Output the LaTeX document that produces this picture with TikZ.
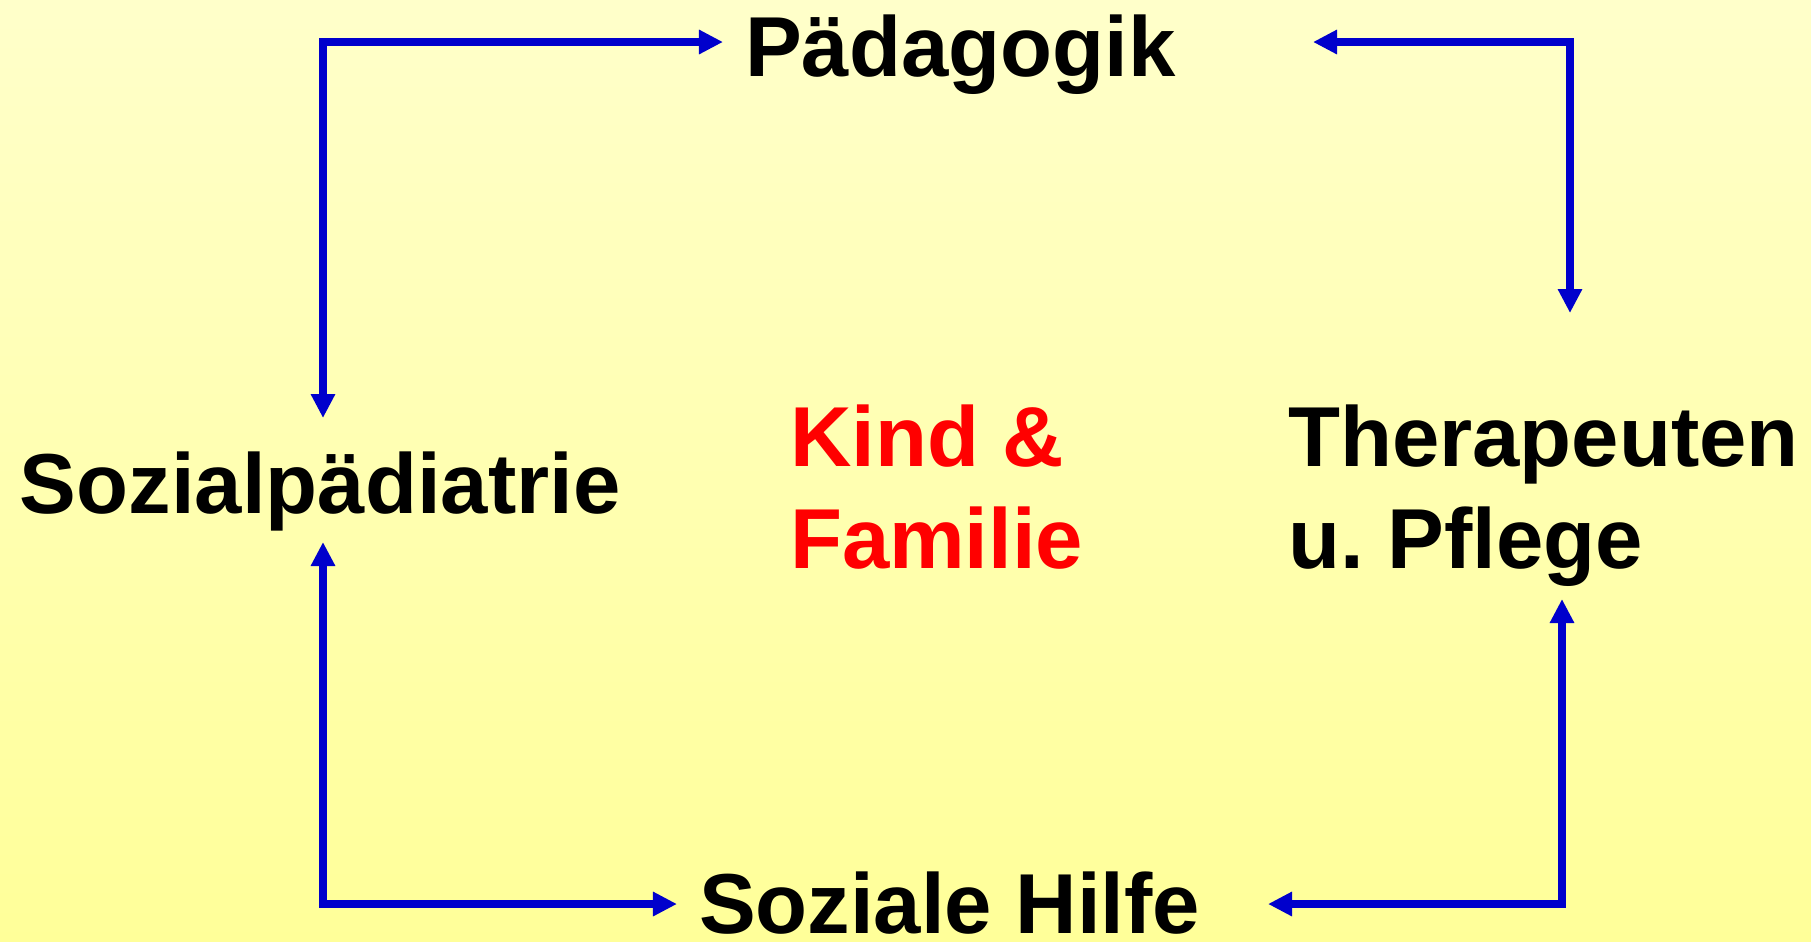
\documentclass[tikz,border=0pt]{standalone}
\usepackage{fontspec}
\setmainfont{Liberation Sans}
\usetikzlibrary{arrows.meta}
\frenchspacing
\definecolor{bgtop}{RGB}{255,255,202}
\definecolor{bgbot}{RGB}{255,255,153}
\definecolor{arrblue}{RGB}{0,0,204}
\definecolor{kfred}{RGB}{255,0,0}
\begin{document}
\begin{tikzpicture}[x=0.01cm,y=-0.01cm,
  lbl/.style={inner sep=0pt,outer sep=0pt,anchor=base west,align=left,
    font=\fontsize{24.2}{28.75}\selectfont\bfseries\frenchspacing},
  conn/.style={draw=arrblue,line width=0.08cm,line join=miter,
    {Triangle[length=0.24cm,width=0.23cm]}-{Triangle[length=0.24cm,width=0.23cm]}}]
\shade[top color=bgtop,bottom color=bgbot] (0,0) rectangle (1811,941);
\useasboundingbox (0,0) rectangle (1811,941);
\node[lbl] (paed) at (745,76) {Pädagogik};
\node[lbl] (sozp) at (20,513) {Sozialpädiatrie};
\node[lbl,text=kfred] (kind) at (790,568) {Kind \&\\Familie};
\node[lbl] (ther) at (1288,568) {Therapeuten\\u. Pflege};
\node[lbl] (sozh) at (699,933) {Soziale Hilfe};
% connector end points
\coordinate (a1) at (323,418);
\coordinate (a2) at (723,42);
\coordinate (b1) at (1313,42);
\coordinate (b2) at (1570,313);
\coordinate (c1) at (323,542);
\coordinate (c2) at (677,904);
\coordinate (d1) at (1268,904);
\coordinate (d2) at (1562,599);
\draw[conn] (a1) |- (a2);
\draw[conn] (b1) -| (b2);
\draw[conn] (c1) |- (c2);
\draw[conn] (d1) -| (d2);
\end{tikzpicture}
\end{document}
